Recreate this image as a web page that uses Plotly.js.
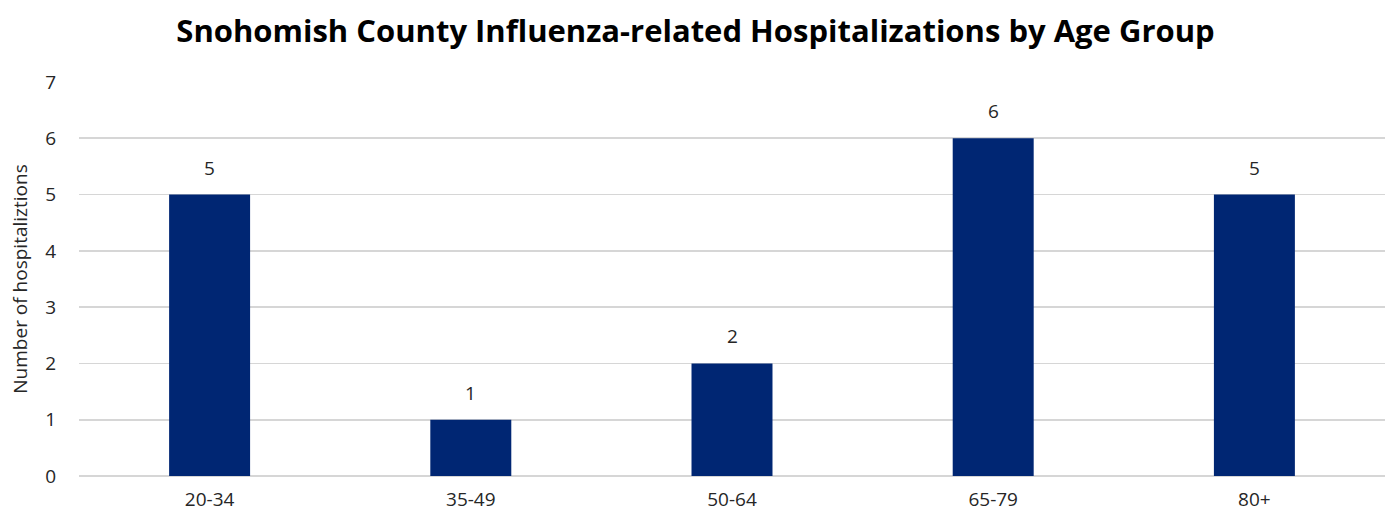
<!DOCTYPE html>
<html><head><meta charset="utf-8">
<script src="https://cdn.plot.ly/plotly-3.0.1.min.js"></script>
<style>html,body{margin:0;padding:0;background:#fff;}#chart{width:1391px;height:514px;}</style>
</head><body><div id="chart"></div>
<script>
const categories = ["20-34", "35-49", "50-64", "65-79", "80+"];
const hospitalizations = [5, 1, 2, 6, 5];
const yTicks = [0, 1, 2, 3, 4, 5, 6, 7];

const trace = {
  type: 'bar', x: categories, y: hospitalizations,
  marker: {color: '#002673'},
  hoverinfo: 'x+y'
};
const labels = categories.map((c, i) => ({
  x: c, y: hospitalizations[i], xref: 'x', yref: 'y',
  text: String(hospitalizations[i]), showarrow: false,
  yanchor: 'bottom', yshift: 12,
  font: {family: 'Open Sans', size: 19, color: '#262626'}
}));
const layout = {
  width: 1391, height: 514,
  margin: {l: 79, r: 6, t: 82, b: 38},
  paper_bgcolor: '#fff', plot_bgcolor: '#fff',
  bargap: 0.69,
  title: {text: '<b>Snohomish County Influenza-related Hospitalizations by Age Group</b>',
    font: {family: 'Open Sans', size: 31, color: '#000'}, x: 0.5, xanchor: 'center', y: 0.94, yanchor: 'middle'},
  annotations: labels,
  xaxis: {type: 'category', tickfont: {family: 'Open Sans', size: 19, color: '#262626'},
    showgrid: false, zeroline: false, showline: false, ticks: '', ticklen: 0, ticklabelstandoff: 10},
  yaxis: {range: [0, 7], tickvals: yTicks, ticktext: yTicks.map(String),
    tickfont: {family: 'Open Sans', size: 19, color: '#262626'},
    gridcolor: '#d6d6d6', gridwidth: 1.8, zeroline: true, zerolinecolor: '#d6d6d6', zerolinewidth: 1.8,
    showline: false, ticks: '', ticklabelstandoff: 22,
    title: {text: 'Number of hospitaliztions', font: {family: 'Open Sans', size: 19, color: '#262626'}, standoff: 12}},
  showlegend: false
};
Plotly.newPlot('chart', [trace], layout, {displayModeBar: false, staticPlot: true});
</script></body></html>
